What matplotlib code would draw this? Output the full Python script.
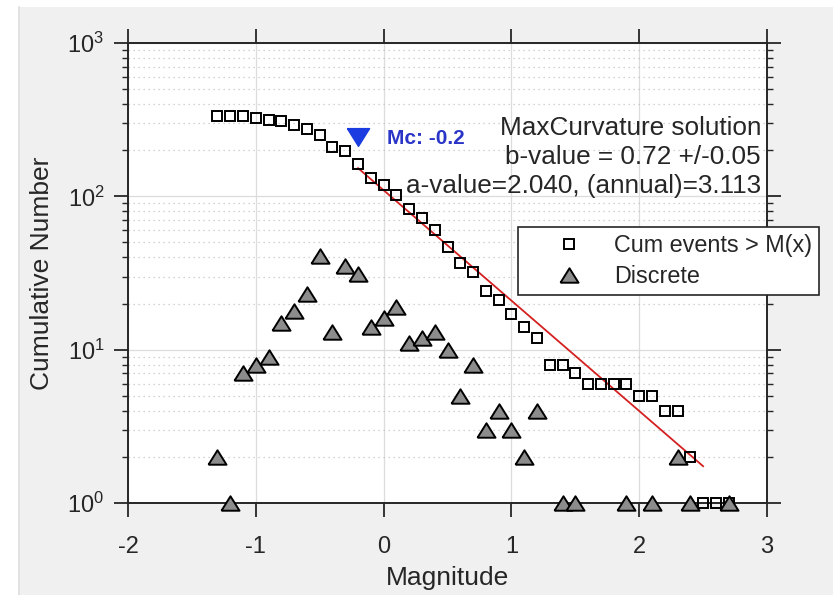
import matplotlib
matplotlib.use("Agg")
import matplotlib.pyplot as plt
from matplotlib.patches import Rectangle
from matplotlib.lines import Line2D
from matplotlib.ticker import FixedLocator, LogLocator, LogFormatterSciNotation, NullFormatter
import numpy as np

plt.rcParams["font.family"] = ["Liberation Sans", "DejaVu Sans"]
plt.rcParams["mathtext.fontset"] = "custom"
plt.rcParams["mathtext.rm"] = "Liberation Sans"
plt.rcParams["mathtext.it"] = "Liberation Sans:italic"
plt.rcParams["mathtext.default"] = "regular"
plt.rcParams["axes.unicode_minus"] = False

# Frequency-magnitude distribution
cum_magnitudes = [-1.3, -1.2, -1.1, -1.0, -0.9, -0.8, -0.7, -0.6, -0.5, -0.4,
                  -0.3, -0.2, -0.1, 0.0, 0.1, 0.2, 0.3, 0.4, 0.5, 0.6,
                  0.7, 0.8, 0.9, 1.0, 1.1, 1.2, 1.3, 1.4, 1.5, 1.6,
                  1.7, 1.8, 1.9, 2.0, 2.1, 2.2, 2.3, 2.4, 2.5, 2.6, 2.7]
cum_counts = [335, 333, 332, 325, 317, 308, 293, 275, 252, 211,
              198, 163, 132, 118, 102, 83, 72, 60, 47, 37,
              32, 24, 21, 17, 14, 12, 8, 8, 7, 6,
              6, 6, 6, 5, 5, 4, 4, 2, 1, 1, 1]

disc_magnitudes = [-1.3, -1.2, -1.1, -1.0, -0.9, -0.8, -0.7, -0.6, -0.5, -0.4,
                   -0.3, -0.2, -0.1, 0.0, 0.1, 0.2, 0.3, 0.4, 0.5, 0.6,
                   0.7, 0.8, 0.9, 1.0, 1.1, 1.2, 1.4, 1.5, 1.9, 2.1,
                   2.3, 2.4, 2.7]
disc_counts = [2, 1, 7, 8, 9, 15, 18, 23, 41, 13,
               35, 31, 14, 16, 19, 11, 12, 13, 10, 5,
               8, 3, 4, 3, 2, 4, 1, 1, 1, 1,
               2, 1, 1]

# Maximum-curvature solution
mc = -0.2
mc_marker_count = 245
a_value = 2.040
a_annual = 3.113
b_value = 0.72
b_error = 0.05
fit_magnitudes = [mc, 2.5]

x_ticks = [-2, -1, 0, 1, 2, 3]
x_ticklabels = ["-2", "-1", "0", "1", "2", "3"]

text_color = "#262626"
W, H = 833, 595
fig = plt.figure(figsize=(W / 100, H / 100), dpi=100, facecolor="#f0f0f0")

# white margin strips at the top and left edge of the window
fig.add_artist(Rectangle((0, 1 - 7 / H), 1, 7 / H, transform=fig.transFigure,
                         facecolor="white", edgecolor="none", zorder=0))
fig.add_artist(Rectangle((0, 0), 18 / W, 1, transform=fig.transFigure,
                         facecolor="white", edgecolor="none", zorder=0))
fig.add_artist(Line2D([19 / W, 19 / W], [0, 1 - 7 / H], transform=fig.transFigure,
                      color="#e0e0e0", lw=1.2, zorder=0))

ax_left, ax_right, ax_top, ax_bottom = 128, 767, 43, 503
ax = fig.add_axes([ax_left / W, 1 - ax_bottom / H,
                   (ax_right - ax_left) / W, (ax_bottom - ax_top) / H])
ax.set_facecolor("white")
ax.set_yscale("log")
ax.set_xlim(-2, 3)
ax.set_ylim(1, 1000)

# triangle markers with MATLAB-like proportions
tri_up = [(-1, -0.8), (1, -0.8), (0, 0.8), (-1, -0.8)]
tri_down = [(-1, 0.8), (1, 0.8), (0, -0.8), (-1, 0.8)]

# fitted Gutenberg-Richter line: log10(N) = a - b*M
fit_m = np.array(fit_magnitudes)
fit_n = 10 ** (a_value - b_value * fit_m)
ax.plot(fit_m, fit_n, color="#d42020", lw=1.3, zorder=3)

h_cum, = ax.plot(cum_magnitudes, cum_counts, ls="none", marker="s", ms=7.8,
                 mfc="none", mec="black", mew=1.4, clip_on=False, zorder=4)
h_disc, = ax.plot(disc_magnitudes, disc_counts, ls="none", marker=tri_up, ms=13,
                  mfc="#8c8c8c", mec="black", mew=1.4, clip_on=False, zorder=5)

ax.plot([mc], [mc_marker_count], ls="none", marker=tri_down, ms=16,
        mfc="#1a3ce0", mec="#1a3ce0", zorder=6)
ax.text(0.03, 240, "Mc: %.1f" % mc, color="#2a35c8", fontsize=15,
        fontweight="bold", ha="left", va="center", zorder=6)

ann_x = (761 - ax_left) / (ax_right - ax_left)
lines = ["MaxCurvature solution",
         "b-value = %.2f +/-%.2f" % (b_value, b_error),
         "a-value=%.3f, (annual)=%.3f" % (a_value, a_annual)]
for txt, ypix in zip(lines, [135, 164, 193]):
    ax.text(ann_x, (ax_bottom - ypix) / (ax_bottom - ax_top), txt,
            transform=ax.transAxes, ha="right", va="baseline",
            fontsize=18.8, color=text_color, zorder=2)

# axes styling
ax.xaxis.set_major_locator(FixedLocator(x_ticks))
ax.set_xticklabels(x_ticklabels)
ax.yaxis.set_major_locator(LogLocator(base=10, numticks=10))
ax.yaxis.set_major_formatter(LogFormatterSciNotation())
ax.yaxis.set_minor_locator(LogLocator(base=10, subs=np.arange(2, 10), numticks=20))
ax.yaxis.set_minor_formatter(NullFormatter())

ax.tick_params(axis="both", which="major", direction="out", length=10, width=1.3,
               top=True, right=True, colors=text_color, labelsize=17)
ax.tick_params(axis="x", which="major", pad=14)
ax.tick_params(axis="y", which="major", pad=7)
ax.tick_params(axis="y", which="minor", direction="out", length=4.5, width=1.0,
               left=True, right=True, colors=text_color)
ax.tick_params(axis="x", which="minor", bottom=False, top=False)
for sp in ax.spines.values():
    sp.set_linewidth(1.4)
    sp.set_color(text_color)

ax.set_axisbelow(True)
ax.grid(True, which="major", color="#dcdcdc", lw=0.9, ls="-")
ax.yaxis.grid(True, which="minor", color="#c4c4c4", lw=0.9, ls=(0, (1, 3)))

ax.set_xlabel("Magnitude", fontsize=19, color=text_color)
ax.xaxis.set_label_coords(0.5, -(578 - ax_bottom) / (ax_bottom - ax_top))
ax.xaxis.label.set_va("center")
ax.set_ylabel("Cumulative Number", fontsize=19, color=text_color, va="center")
ax.yaxis.set_label_coords(-(ax_left - 42) / (ax_right - ax_left), 0.5)

leg = ax.legend([h_cum, h_disc], ["Cum events > M(x)", "Discrete"],
                loc="upper left", bbox_to_anchor=(518 / W, 1 - 227 / H),
                bbox_transform=fig.transFigure, borderaxespad=0,
                fontsize=16.8, frameon=True, fancybox=False, framealpha=1,
                facecolor="white", edgecolor=text_color,
                borderpad=0.3, labelspacing=0.36, handlelength=3.8,
                handletextpad=0.0)
leg.get_frame().set_linewidth(1.2)
for t in leg.get_texts():
    t.set_color(text_color)

fig.savefig("out.png", dpi=100, facecolor=fig.get_facecolor())
